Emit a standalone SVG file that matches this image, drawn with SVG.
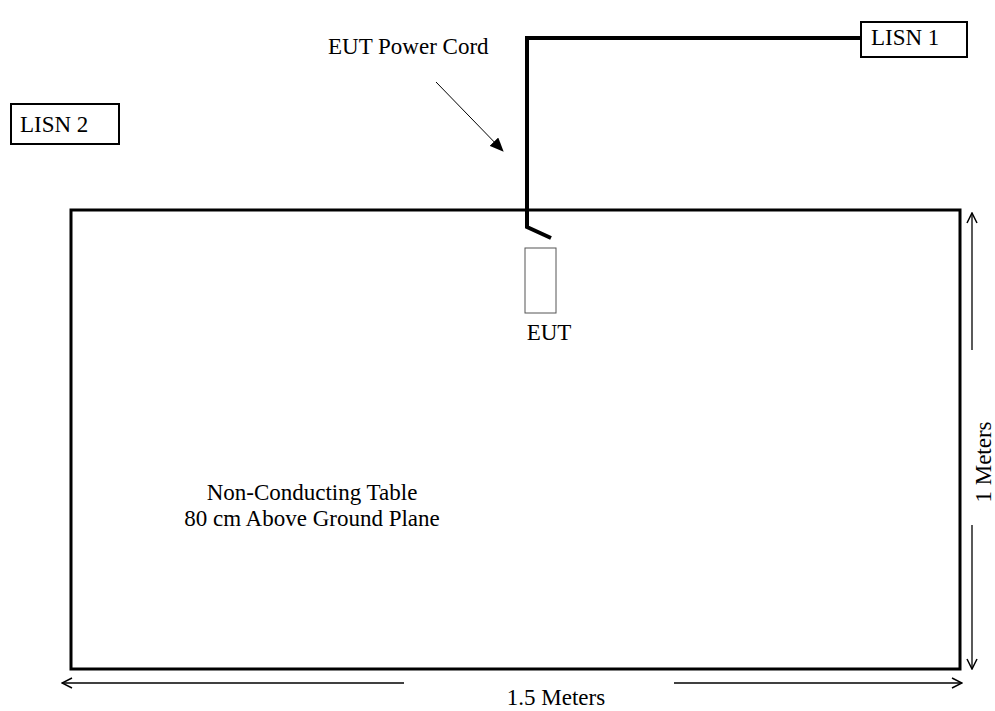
<svg xmlns="http://www.w3.org/2000/svg" width="995" height="711" viewBox="0 0 995 711">
<defs>
<style>
text{font-family:"Liberation Serif","Times New Roman",serif;font-size:23px;fill:#000}
.box{fill:#fff;stroke:#000;stroke-width:2}
.dim{stroke:#000;stroke-width:1.3;fill:none}
</style>
<marker id="open" viewBox="0 0 12 12" refX="11" refY="6" markerWidth="12" markerHeight="12" markerUnits="userSpaceOnUse" orient="auto">
<path d="M1,1 L11,6 L1,11" fill="none" stroke="#000" stroke-width="1.5"/>
</marker>
<marker id="solid" viewBox="0 0 14 12" refX="13" refY="6" markerWidth="14" markerHeight="12" markerUnits="userSpaceOnUse" orient="auto">
<path d="M0,0 L14,6 L0,12 Z" fill="#000"/>
</marker>
</defs>
<rect width="995" height="711" fill="#fff"/>
<g id="table">
<rect x="71" y="210" width="889" height="459" fill="none" stroke="#000" stroke-width="3"/>
<text x="312" y="500" text-anchor="middle">Non-Conducting Table</text>
<text x="312" y="526" text-anchor="middle">80 cm Above Ground Plane</text>
</g>
<g id="lisn1">
<rect class="box" x="861" y="22" width="106" height="35"/>
<text x="871" y="45">LISN 1</text>
</g>
<g id="lisn2">
<rect class="box" x="11" y="104" width="108" height="40"/>
<text x="20" y="132">LISN 2</text>
</g>
<g id="eut">
<rect x="525" y="248" width="31" height="65" fill="#fff" stroke="#555" stroke-width="1"/>
<text x="549" y="340" text-anchor="middle">EUT</text>
</g>
<g id="label">
<text x="328" y="54">EUT Power Cord</text>
</g>
<g id="connectors">
<path d="M861,38 H527 V227 L551,238" fill="none" stroke="#000" stroke-width="4" stroke-linejoin="miter"/>
<line x1="436" y1="82" x2="503" y2="151" stroke="#000" stroke-width="1" marker-end="url(#solid)"/>
<line class="dim" x1="972" y1="350" x2="972" y2="213" marker-end="url(#open)"/>
<line class="dim" x1="972" y1="525" x2="972" y2="669" marker-end="url(#open)"/>
<line class="dim" x1="404" y1="683" x2="62" y2="683" marker-end="url(#open)"/>
<line class="dim" x1="674" y1="683" x2="962" y2="683" marker-end="url(#open)"/>
</g>
<g id="dims">
<text x="556" y="705" text-anchor="middle">1.5 Meters</text>
<text transform="translate(991,462) rotate(-90)" text-anchor="middle">1 Meters</text>
</g>
</svg>
